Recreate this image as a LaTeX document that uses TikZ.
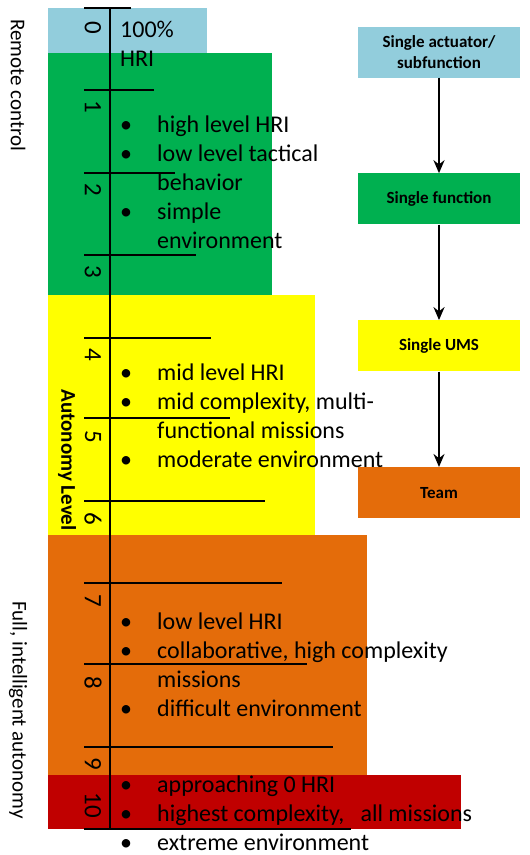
\documentclass[tikz,border=0pt]{standalone}
\usepackage{fontspec}
\setmainfont{Carlito}
\usetikzlibrary{arrows.meta,positioning}

\definecolor{lvlblue}{RGB}{146,205,220}
\definecolor{lvlgreen}{RGB}{0,176,80}
\definecolor{lvlyellow}{RGB}{255,255,0}
\definecolor{lvlorange}{RGB}{228,108,10}
\definecolor{lvlred}{RGB}{192,0,0}

\newcommand{\bul}{\makebox[37pt][l]{\textbullet}}
\newcommand{\nobul}{\hspace*{37pt}}

\begin{document}
\begin{tikzpicture}[x=1pt,y=-1pt,>={Stealth[length=13pt,width=11pt]},node distance=95.5pt]
	\tikzset{
		lvltext/.style={anchor=base west,inner sep=0pt,align=left,font=\fontsize{24}{28.8}\selectfont},
		lvlnum/.style={rotate=-90,inner sep=0pt,font=\fontsize{25}{30}\selectfont},
		sidetext/.style={rotate=-90,inner sep=0pt,font=\fontsize{21}{25}\selectfont},
		flowbox/.style={minimum width=162pt,minimum height=51pt,inner sep=2pt,align=center,font=\bfseries\fontsize{17}{20.5}\selectfont},
		tick/.style={line width=1.6pt}
	}
	\useasboundingbox (0,0) rectangle (530,855);
	% level bands
	\fill[lvlblue] (48,8) rectangle (207,53);
	\fill[lvlgreen] (48,53) rectangle (272,295);
	\fill[lvlyellow] (48,295) rectangle (315,535);
	\fill[lvlorange] (48,535) rectangle (367,775);
	\fill[lvlred] (48,775) rectangle (461,829);
	% scale
	\draw[tick] (110,8) -- (110,829);
	\foreach \y/\xe in {8/131,90/154,173/175,255/196,338/211,418/230,501/265,583/282,664/307,747/333,829/351}
		\draw[tick] (84,\y) -- (\xe,\y);
	\foreach \d/\y in {0/28,1/107,2/190,3/272,4/355,5/437,6/519,7/601,8/683,9/764,10/805}
		\node[lvlnum] (num\d) at (93,\y) {\d};
	% side labels
	\node[sidetext] (remote) at (18,85) {Remote control};
	\node[sidetext] (full) at (18,710) {Full, intelligent autonomy};
	\node[sidetext,font=\bfseries\fontsize{21}{25}\selectfont] (axis) at (67,460) {Autonomy Level};
	% level descriptions (anchored on the last line)
	\node[lvltext] (hri0) at (120,66) {100\%\\HRI};
	\node[lvltext] (desc1) at (120,248) {\bul high level HRI\\\bul low level tactical\\\nobul behavior\\\bul simple\\\nobul environment};
	\node[lvltext] (desc4) at (120,467) {\bul mid level HRI\\\bul mid complexity, multi-\\\nobul functional missions\\\bul moderate environment};
	\node[lvltext] (desc7) at (120,716) {\bul low level HRI\\\bul collaborative, high complexity\\\nobul missions\\\bul difficult environment};
	\node[lvltext] (desc10) at (120,850) {\bul approaching 0 HRI\\\bul highest complexity,\ \ \ all missions\\\bul extreme environment};
	% flow of scope
	\node[flowbox,fill=lvlblue] (actuator) at (439,52) {Single actuator/\\subfunction};
	\node[flowbox,fill=lvlgreen] (function) [below=of actuator] {Single function};
	\node[flowbox,fill=lvlyellow] (ums) [below=of function] {Single UMS};
	\node[flowbox,fill=lvlorange] (team) [below=of ums] {Team};
	\path[->,line width=2.4pt]
		(actuator) edge (function)
		(function) edge (ums)
		(ums) edge (team);
\end{tikzpicture}
\end{document}
